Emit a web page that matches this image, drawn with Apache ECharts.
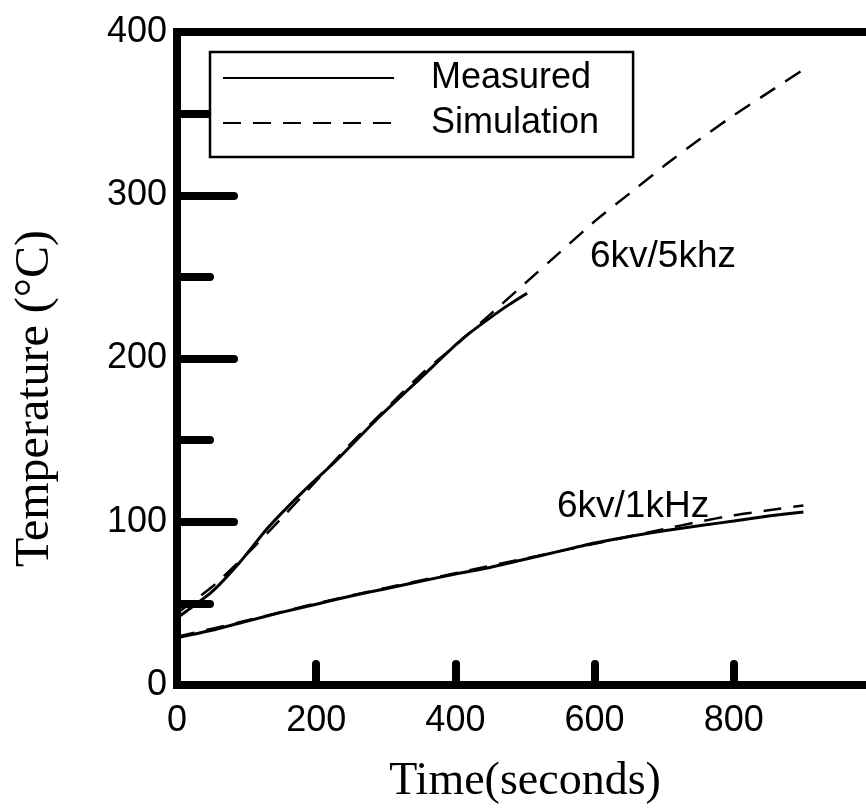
<!DOCTYPE html>
<html>
<head>
<meta charset="utf-8">
<style>html,body{margin:0;padding:0;background:#fff;}#chart{width:866px;height:811px;}</style>
<script src="https://cdn.jsdelivr.net/npm/echarts@6/dist/echarts.min.js"></script>
</head>
<body>
<div id="chart"></div>
<script>
// ---- data ----
const xTicks = [0, 200, 400, 600, 800, 1000];
const yTicks = [0, 100, 200, 300, 400];

const meas5Time = [0, 50, 90, 130, 180, 230, 290, 350, 410, 470, 503];
const meas5Temp = [41, 57, 75, 96, 118, 138, 164, 188, 212, 231, 240];

const sim5Time = [0, 50, 100, 150, 200, 250, 300, 350, 400, 450, 500, 550, 600, 650, 700, 750, 800, 850, 900];
const sim5Temp = [44, 60, 80, 102, 125, 148, 169, 190, 208, 227, 246, 265, 284, 301, 318, 334, 349, 363, 377];

const meas1Time = [0, 50, 100, 150, 200, 250, 300, 350, 400, 450, 500, 550, 600, 650, 700, 750, 800, 850, 900];
const meas1Temp = [29, 33.5, 39, 44.5, 49.5, 54.5, 59, 63.5, 68, 72, 77, 82, 87, 91, 94.5, 97.5, 100.5, 103.5, 106];

const sim1Time = [0, 100, 200, 300, 400, 500, 600, 700, 750, 800, 850, 900];
const sim1Temp = [29.5, 39.5, 50, 59.5, 68.5, 77.5, 86.5, 95.5, 100, 104, 107, 110];

const seriesNames = ['Measured', 'Simulation'];
const curveLabels = ['6kv/5khz', '6kv/1kHz'];

function pairs(xs, ys) { return xs.map((x, i) => [x, ys[i]]); }

const SANS = '"Liberation Sans", Arial, sans-serif';
const SERIF = '"Liberation Serif", "Times New Roman", serif';

const chart = echarts.init(document.getElementById('chart'));
const dashed = { color: '#000', width: 2.5, type: [18, 12] };
const solid = { color: '#000', width: 3 };

chart.setOption({
  animation: false,
  backgroundColor: '#fff',
  grid: {
    left: 177, top: 32, right: -7, bottom: 126,
    containLabel: false, outerBoundsMode: 'none',
    show: true, borderColor: '#000', borderWidth: 8, backgroundColor: 'transparent'
  },
  legend: {
    data: seriesNames,
    orient: 'vertical',
    left: 210, top: 52,
    padding: [6, 34, 14, 12],
    itemWidth: 171, itemHeight: 14, itemGap: 5,
    itemStyle: { opacity: 0 },
    borderColor: '#000', borderWidth: 2.5, borderRadius: 0,
    backgroundColor: '#fff',
    textStyle: { fontFamily: SANS, fontSize: 36, color: '#000', lineHeight: 40, padding: [0, 0, 0, 32] }
  },
  xAxis: {
    type: 'value', min: xTicks[0], max: xTicks[xTicks.length - 1], interval: 200,
    name: 'Time(seconds)', nameLocation: 'middle', nameGap: 74,
    nameTextStyle: { fontFamily: SERIF, fontSize: 46, color: '#000' },
    axisLine: { show: false },
    axisTick: { show: true, inside: true, length: 21, lineStyle: { color: '#000', width: 8, cap: 'round' } },
    axisLabel: { fontFamily: SANS, fontSize: 36, color: '#000', margin: 18,
      formatter: v => (v === 1000 ? '' : String(v)) },
    splitLine: { show: false }
  },
  yAxis: {
    type: 'value', min: yTicks[0], max: yTicks[yTicks.length - 1], interval: 100,
    name: 'Temperature (°C)', nameLocation: 'middle', nameGap: 118, nameRotate: 90,
    nameTextStyle: { fontFamily: SERIF, fontSize: 48, color: '#000', padding: [0, 80, 0, 0] },
    axisLine: { show: false },
    axisTick: { show: true, inside: true, length: 57, lineStyle: { color: '#000', width: 8, cap: 'round' } },
    minorTick: { show: true, splitNumber: 2, length: 33, lineStyle: { color: '#000', width: 8, cap: 'round' } },
    axisLabel: { fontFamily: SANS, fontSize: 36, color: '#000', margin: 10 },
    splitLine: { show: false }, minorSplitLine: { show: false }
  },
  series: [
    { name: seriesNames[1], type: 'line', data: pairs(sim5Time, sim5Temp), showSymbol: false, symbol: 'none', lineStyle: dashed, itemStyle: { color: '#000' }, smooth: 0.2 },
    { name: seriesNames[1], type: 'line', data: pairs(sim1Time, sim1Temp), showSymbol: false, symbol: 'none', lineStyle: dashed, itemStyle: { color: '#000' }, smooth: 0.2 },
    { name: seriesNames[0], type: 'line', data: pairs(meas5Time, meas5Temp), showSymbol: false, symbol: 'none', lineStyle: solid, itemStyle: { color: '#000' }, smooth: 0.2 },
    { name: seriesNames[0], type: 'line', data: pairs(meas1Time, meas1Temp), showSymbol: false, symbol: 'none', lineStyle: solid, itemStyle: { color: '#000' }, smooth: 0.2 }
  ],
  graphic: [
    { type: 'text', left: 590, top: 238, style: { text: curveLabels[0], font: '37px ' + SANS, fill: '#000' } },
    { type: 'text', left: 557, top: 488, style: { text: curveLabels[1], font: '37px ' + SANS, fill: '#000' } }
  ]
});
</script>
</body>
</html>
